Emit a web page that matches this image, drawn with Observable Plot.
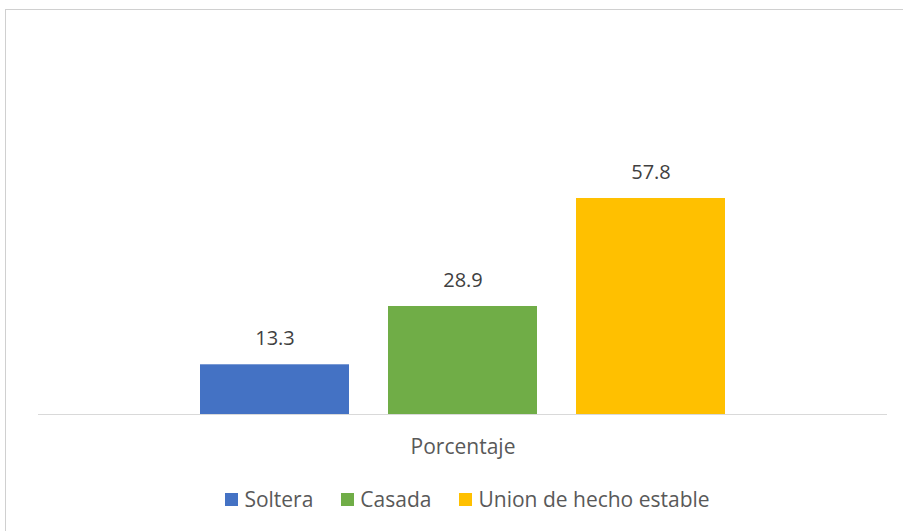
<!DOCTYPE html>
<html><head><meta charset="utf-8">
<script src="https://cdn.jsdelivr.net/npm/d3@7"></script>
<script src="https://cdn.jsdelivr.net/npm/@observablehq/plot@0.6"></script>
<style>
body{margin:0;background:#fff;font-family:"Open Sans",sans-serif;}
#wrap{position:relative;width:903px;height:531px;overflow:hidden;background:#fff;}
#border{position:absolute;left:5px;top:9px;width:960px;height:600px;border:1px solid #d0d0d0;box-sizing:border-box;}
#chart{position:absolute;left:0;top:0;}
#legend{position:absolute;left:16px;top:487px;width:903px;height:24px;display:flex;justify-content:center;align-items:center;font-size:21px;color:#595959;}
.item{display:flex;align-items:center;margin:0 14px;}
.sw{width:13px;height:13px;margin-right:6px;}
</style>
</head><body>
<div id="wrap"><div id="border"></div><div id="chart"></div><div id="legend"></div></div>
<script>
const series = ["Soltera", "Casada", "Union de hecho estable"];
const values = [13.3, 28.9, 57.8];
const colors = ["#4472C4", "#70AD47", "#FFC000"];
const category = "Porcentaje";

const data = series.map((s, i) => ({s, v: values[i]}));

const chart = Plot.plot({
  width: 903, height: 470,
  marginLeft: 38, marginRight: 16, marginTop: 152.4, marginBottom: 56,
  style: {fontFamily: "'Open Sans', sans-serif", background: "transparent"},
  x: {domain: series, paddingInner: 0.207, paddingOuter: 0.861, axis: null},
  y: {domain: [0, 70], axis: null},
  color: {domain: series, range: colors},
  marks: [
    Plot.ruleY([0], {stroke: "#d9d9d9", strokeWidth: 1}),
    Plot.barY(data, {x: "s", y: "v", fill: "s"}),
    Plot.text(data, {x: "s", y: "v", text: d => d.v.toFixed(1), dy: -26, lineAnchor: "middle", fill: "#404040", fontSize: 20}),
    Plot.text([category], {frameAnchor: "bottom", dy: 33, lineAnchor: "middle", fill: "#595959", fontSize: 21})
  ]
});
document.getElementById("chart").appendChild(chart);

const legend = document.getElementById("legend");
series.forEach((s, i) => {
  const it = document.createElement("div");
  it.className = "item";
  const sw = document.createElement("span");
  sw.className = "sw";
  sw.style.background = colors[i];
  const t = document.createElement("span");
  t.textContent = s;
  it.appendChild(sw); it.appendChild(t);
  legend.appendChild(it);
});
</script>
</body></html>
